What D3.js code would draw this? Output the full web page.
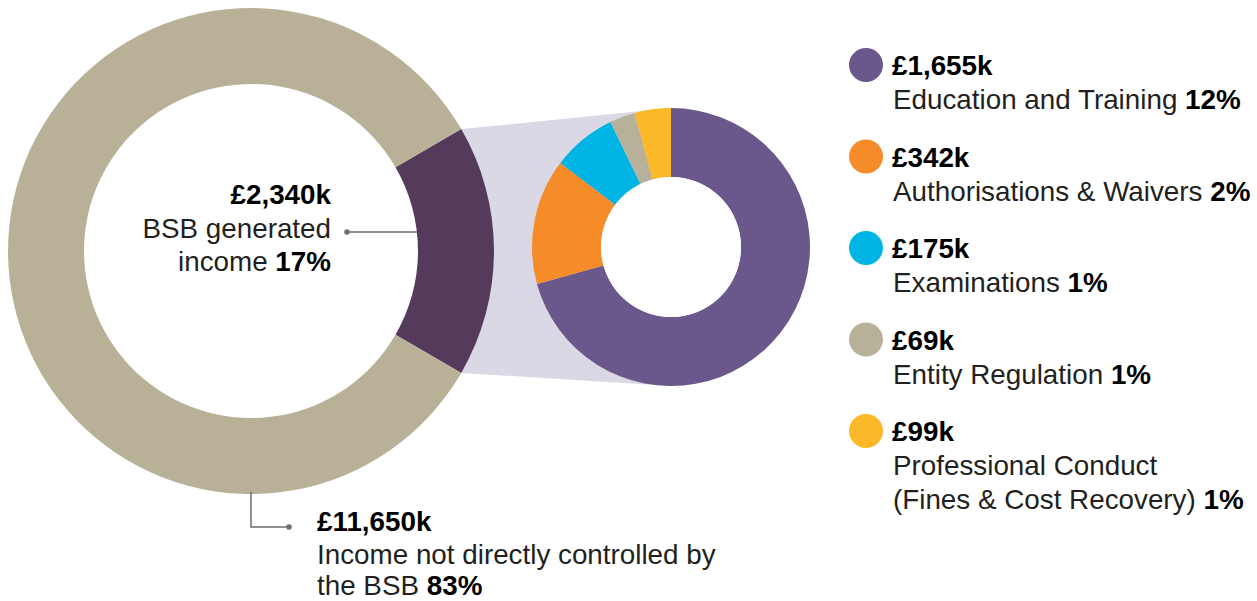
<!DOCTYPE html>
<html>
<head>
<meta charset="utf-8">
<script src="https://cdn.jsdelivr.net/npm/d3@7"></script>
<style>
  body { margin: 0; background: #fff; }
  text { font-family: "Liberation Sans", Arial, sans-serif; }
</style>
</head>
<body>
<div id="chart"></div>
<script>
// income split (k GBP)
var mainNames  = ["BSB generated income", "Income not directly controlled by the BSB"];
var mainValues = [2340, 11650];
var mainPct    = ["17%", "83%"];
var mainColors = ["#553a5c", "#b8b198"];

// breakdown of BSB generated income
var subNames  = ["Education and Training", "Authorisations & Waivers", "Examinations", "Entity Regulation", "Professional Conduct|(Fines & Cost Recovery)"];
var subValues = [1655, 342, 175, 69, 99];
var subPct    = ["12%", "2%", "1%", "1%", "1%"];
var subColors = ["#6a578c", "#f68b2a", "#00b5e3", "#b8b199", "#fbb829"];

var width = 1257, height = 601;
var fontSize = 27.8;
var textCol = "#231f20";
var leaderCol = "#6d6e71";

var fmt = function (v) { return "£" + d3.format(",")(v) + "k"; };

var svg = d3.select("#chart")
    .append("svg")
    .attr("width", width)
    .attr("height", height);

// big donut
var bx = 251, by = 251, bR = 243, br = 167;
var share = mainValues[0] / d3.sum(mainValues);
var start = Math.PI / 2 - share * Math.PI;

var mainArcs = d3.pie().sort(null)
    .startAngle(start)
    .endAngle(start + 2 * Math.PI)(mainValues);

// small donut
var sx = 671, sy = 247, sR = 139, sr = 70;
var subArcs = d3.pie().sort(null)(subValues);

// lavender band joining the two
var a0 = mainArcs[0].startAngle, a1 = mainArcs[0].endAngle;
var band = [
    [bx + bR * Math.sin(a0), by - bR * Math.cos(a0)],
    [sx, sy - sR],
    [sx, sy + sR],
    [bx + bR * Math.sin(a1), by - bR * Math.cos(a1)]
];
svg.append("path")
    .attr("d", d3.line()(band) + "Z")
    .attr("fill", "#dbd8e5");

svg.append("g")
    .attr("transform", "translate(" + bx + "," + by + ")")
    .selectAll("path")
    .data(mainArcs)
    .enter()
    .append("path")
    .attr("d", d3.arc().innerRadius(br).outerRadius(bR))
    .attr("fill", function (d, i) { return mainColors[i]; });

var small = svg.append("g")
    .attr("transform", "translate(" + sx + "," + sy + ")");

small.selectAll("path")
    .data(subArcs)
    .enter()
    .append("path")
    .attr("d", d3.arc().innerRadius(sr).outerRadius(sR))
    .attr("fill", function (d, i) { return subColors[i]; });

small.append("circle")
    .attr("r", sr)
    .attr("fill", "#fff");

// label inside big donut
var inLabel = svg.append("text")
    .attr("text-anchor", "end")
    .attr("font-size", fontSize)
    .attr("fill", textCol);
inLabel.append("tspan").attr("x", 331).attr("y", 204)
    .attr("font-weight", "bold").attr("fill", "#000")
    .text(fmt(mainValues[0]));
inLabel.append("tspan").attr("x", 331).attr("y", 238).text("BSB generated");
var l3 = inLabel.append("tspan").attr("x", 331).attr("y", 271);
l3.append("tspan").text("income ");
l3.append("tspan").attr("font-weight", "bold").attr("fill", "#000").text(mainPct[0]);

var ly = 232;
svg.append("line")
    .attr("x1", 347).attr("y1", ly)
    .attr("x2", bx + Math.sqrt(br * br - (ly - by) * (ly - by))).attr("y2", ly)
    .attr("stroke", leaderCol).attr("stroke-width", 1.5);
svg.append("circle").attr("cx", 347).attr("cy", ly).attr("r", 2.8).attr("fill", leaderCol);

// label under big donut
svg.append("path")
    .attr("d", "M" + bx + "," + (by + bR - 2) + "V527H289")
    .attr("stroke", leaderCol).attr("stroke-width", 1.5).attr("fill", "none");
svg.append("circle").attr("cx", 289).attr("cy", 527).attr("r", 2.8).attr("fill", leaderCol);

var outLabel = svg.append("text")
    .attr("font-size", fontSize)
    .attr("fill", textCol);
outLabel.append("tspan").attr("x", 317).attr("y", 531)
    .attr("font-weight", "bold").attr("fill", "#000")
    .text(fmt(mainValues[1]));
outLabel.append("tspan").attr("x", 317).attr("y", 564).text("Income not directly controlled by");
var o3 = outLabel.append("tspan").attr("x", 317).attr("y", 595);
o3.append("tspan").text("the BSB ");
o3.append("tspan").attr("font-weight", "bold").attr("fill", "#000").text(mainPct[1]);

// legend
var legend = svg.selectAll(".legend")
    .data(subNames)
    .enter()
    .append("g")
    .attr("class", "legend")
    .attr("transform", function (d, i) { return "translate(866," + (65 + i * 91.5) + ")"; });

legend.append("circle")
    .attr("r", 17)
    .attr("fill", function (d, i) { return subColors[i]; });

legend.append("text")
    .attr("x", 26).attr("y", 10)
    .attr("font-size", fontSize)
    .attr("font-weight", "bold")
    .text(function (d, i) { return fmt(subValues[i]); });

legend.each(function (d, i) {
    var lines = d.split("|");
    var t = d3.select(this).append("text")
        .attr("font-size", fontSize)
        .attr("fill", textCol);
    lines.forEach(function (line, j) {
        var ts = t.append("tspan").attr("x", 27).attr("y", 44 + j * 34).text(line);
        if (j == lines.length - 1) {
            ts.text(line + " ");
            t.append("tspan").attr("font-weight", "bold").attr("fill", "#000").text(subPct[i]);
        }
    });
});
</script>
</body>
</html>
